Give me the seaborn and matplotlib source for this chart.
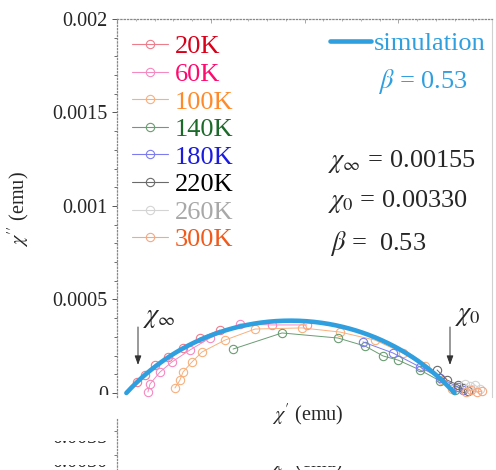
import numpy as np
import matplotlib
matplotlib.use("Agg")
import matplotlib.pyplot as plt
import seaborn as sns
from matplotlib.lines import Line2D
from matplotlib.ticker import MultipleLocator, FuncFormatter
from matplotlib.transforms import Bbox

sns.set_style("white")
plt.rcParams["font.family"] = ["Liberation Serif", "DejaVu Serif"]
plt.rcParams["mathtext.fontset"] = "stix"

W, H, DPI = 496, 470, 100

# ac susceptibility, chi' and chi'' (emu), one Cole-Cole set per temperature
temps = ["20K", "60K", "100K", "140K", "180K", "220K", "260K", "300K"]
label_colors = ["#d9001a", "#ff0a6e", "#ff8a2a", "#1c6a2a",
                "#1a1ae0", "#000000", "#a8a8a8", "#f05a1a"]
line_colors = ["#ee7d8c", "#f58ac0", "#f8b07c", "#6b9c73",
               "#7c7cf0", "#6a6a6a", "#d4d4d4", "#f5a882"]

chi1_20K = [0.001607, 0.001649, 0.001703, 0.001772, 0.001852, 0.001943, 0.002049]
chi2_20K = [0.0000588, 0.0000963, 0.000150, 0.000193, 0.000241, 0.000294, 0.000337]

chi1_60K = [0.001665, 0.001676, 0.001729, 0.001793, 0.001889, 0.001996, 0.002156, 0.002327, 0.002513]
chi2_60K = [0.0000053, 0.0000481, 0.000112, 0.000166, 0.000230, 0.000294, 0.000369, 0.000364, 0.000364]

chi1_100K = [0.001809, 0.001836, 0.001852, 0.001900, 0.001953, 0.002076, 0.002236,
             0.002487, 0.002689, 0.002876, 0.003025, 0.003143, 0.003233, 0.003287]
chi2_100K = [0.0000267, 0.0000695, 0.000112, 0.000166, 0.000219, 0.000283, 0.000342,
             0.000348, 0.000326, 0.000283, 0.000214, 0.000144, 0.0000695, 0.0000214]

chi1_140K = [0.002119, 0.002380, 0.002679, 0.002823, 0.002919, 0.002999, 0.003116, 0.003223, 0.003303]
chi2_140K = [0.000235, 0.000321, 0.000294, 0.000251, 0.000198, 0.000176, 0.000123, 0.0000642, 0.000016]

chi1_180K = [0.002812, 0.002972, 0.003116, 0.003223, 0.003319, 0.003345]
chi2_180K = [0.000273, 0.000214, 0.000139, 0.0000802, 0.0000321, 0.000016]

chi1_220K = [0.003207, 0.003260, 0.003319, 0.003345, 0.003372]
chi2_220K = [0.000123, 0.0000695, 0.0000428, 0.0000267, 0.0000107]

chi1_260K = [0.003356, 0.003383, 0.003409, 0.003436]
chi2_260K = [0.0000481, 0.0000374, 0.0000428, 0.0000214]

chi1_300K = [0.003361, 0.003388, 0.003420, 0.003447]
chi2_300K = [0.0000053, 0.000016, 0.0000053, 0.0000107]

chi1_sets = [chi1_20K, chi1_60K, chi1_100K, chi1_140K, chi1_180K, chi1_220K, chi1_260K, chi1_300K]
chi2_sets = [chi2_20K, chi2_60K, chi2_100K, chi2_140K, chi2_180K, chi2_220K, chi2_260K, chi2_300K]

# generalized Debye (Cole-Cole) fit parameters
chi_inf = 0.00155
chi_0 = 0.00330
beta = 0.53
sim_color = "#2f9fe0"

wt = np.logspace(-12, 12, 1500)
chi_sim = chi_inf + (chi_0 - chi_inf) / (1 + (1j * wt) ** beta)
sim_real = chi_sim.real
sim_imag = -chi_sim.imag


def fx(px):
    return px / W


def fy(py):
    return 1 - py / H


fig = plt.figure(figsize=(W / DPI, H / DPI), dpi=DPI)
fig.patch.set_facecolor("white")

ax = fig.add_axes([fx(117), fy(397), fx(492) - fx(117), fy(19) - fy(397)])
ax.set_facecolor("none")

for c1, c2, lc in zip(chi1_sets, chi2_sets, line_colors):
    sns.lineplot(x=c1, y=c2, ax=ax, sort=False, estimator=None, color=lc,
                 lw=0.7, marker="o", markersize=6, markerfacecolor="none",
                 markeredgecolor=lc, markeredgewidth=0.8, legend=False, zorder=3)

sns.lineplot(x=sim_real, y=sim_imag, ax=ax, sort=False, estimator=None,
             color=sim_color, lw=3.3, legend=False, zorder=5)

ax.set_xlim(0.0015, 0.0035)
ax.set_ylim(-0.0000214, 0.002)

ax.yaxis.set_major_locator(MultipleLocator(0.0005))
ax.yaxis.set_minor_locator(MultipleLocator(0.0001))
ax.xaxis.set_major_locator(MultipleLocator(0.0005))
ax.xaxis.set_minor_locator(MultipleLocator(0.0001))
ax.yaxis.set_major_formatter(FuncFormatter(lambda v, p: "%g" % round(v, 6)))

ax.tick_params(axis="y", which="both", left=True, right=False, direction="out",
               color="#555555", labelsize=14.5, pad=3)
ax.tick_params(axis="y", which="major", length=3.6, width=0.7)
ax.tick_params(axis="y", which="minor", length=2.2, width=0.6)
ax.tick_params(axis="x", which="both", top=True, bottom=False, labeltop=False,
               labelbottom=False, direction="in", color="#999999")
ax.tick_params(axis="x", which="major", length=3, width=0.6)
ax.tick_params(axis="x", which="minor", length=1.5, width=0.5)

for side in ("left", "top"):
    ax.spines[side].set_visible(True)
    ax.spines[side].set_linestyle(":")
    ax.spines[side].set_color("#888888")
    ax.spines[side].set_linewidth(0.9)
ax.spines["right"].set_visible(True)
ax.spines["right"].set_color("#d0d0d0")
ax.spines["right"].set_linewidth(0.8)
ax.spines["bottom"].set_visible(False)

ax.set_xlabel(r"$\chi'$ (emu)", fontsize=14.5)
ax.xaxis.set_label_coords(0.509, -0.012)
ax.xaxis.label.set_va("top")
ax.set_ylabel(r"$\chi''$ (emu)", fontsize=14.5)
ax.yaxis.set_label_coords(-0.261, 0.497)
ax.yaxis.label.set_va("center")
ax.yaxis.label.set_ha("center")

# the bottom of the panel is cut just under the zero line
fig.canvas.draw()
for tick in ax.yaxis.get_major_ticks():
    tick.label1.set_clip_box(Bbox.from_extents(0, H - 395, W, H))
    tick.label1.set_clip_on(True)

# arrows marking chi_inf and chi_0 on the real axis
for xa in (0.001612, 0.003276):
    ax.annotate("", xy=(xa, 0.000150), xytext=(xa, 0.000353),
                arrowprops=dict(arrowstyle="-|>,head_length=0.55,head_width=0.2",
                                color="#333333", lw=0.7, shrinkA=0, shrinkB=0),
                zorder=6)
fig.text(fx(143), fy(322), r"$\chi_{\infty}$", fontsize=19, va="baseline")
fig.text(fx(455), fy(320), r"$\chi_{0}$", fontsize=19, va="baseline")

# temperature legend
handles = [Line2D([], [], color=lc, lw=0.8, marker="o", markersize=6,
                  markerfacecolor="none", markeredgecolor=lc, markeredgewidth=0.8)
           for lc in line_colors]
leg = ax.legend(handles, temps, labelcolor=label_colors, loc="upper left",
                bbox_to_anchor=(fx(132), fy(35)), bbox_transform=fig.transFigure,
                frameon=False, fontsize=19, handlelength=1.36, handletextpad=0.27,
                labelspacing=0.155, borderpad=0, borderaxespad=0)
ax.add_artist(leg)

# simulation legend and fit values
ax.legend([Line2D([], [], color=sim_color, lw=3.3)], ["simulation"],
          labelcolor=sim_color, loc="upper left", bbox_to_anchor=(fx(330), fy(32)),
          bbox_transform=fig.transFigure, frameon=False, fontsize=19,
          handlelength=1.55, handletextpad=0.12, borderpad=0, borderaxespad=0)
fig.text(fx(423), fy(88), r"$\beta$ = %.2f" % beta, color=sim_color, fontsize=19,
         ha="center", va="baseline")
fig.text(fx(328), fy(167), r"$\chi_{\infty}$ = %.5f" % chi_inf, fontsize=19, va="baseline")
fig.text(fx(328), fy(207), r"$\chi_{0}$ = %.5f" % chi_0, fontsize=19, va="baseline")
fig.text(fx(330), fy(250), r"$\beta$ =  %.2f" % beta, fontsize=19, va="baseline")

# top edge of the next panel
ax2 = fig.add_axes([fx(117), 0, 0.3, fy(418)])
ax2.set_facecolor("none")
ax2.set_xlim(0, 1)
ax2.set_ylim(0, H - 418)
ax2.set_yticks([H - 455, H - 431])
ax2.set_xticks([])
ax2.tick_params(axis="y", left=True, direction="out", length=2.4, width=0.6,
                color="#666666", labelleft=False)
for side in ("right", "top", "bottom"):
    ax2.spines[side].set_visible(False)
ax2.spines["left"].set_visible(True)
ax2.spines["left"].set_linestyle(":")
ax2.spines["left"].set_color("#888888")
ax2.spines["left"].set_linewidth(0.9)

for lab, base in (("0.0035", 443), ("0.0030", 467)):
    t = fig.text(fx(107), fy(base), lab, fontsize=14.5, ha="right", va="baseline")
    t.set_clip_box(Bbox.from_extents(0, H - base - 1, W, H - base + 2))
    t.set_clip_on(True)

t = fig.text(fx(308), fy(467.5), r"$\chi'$ (emu)", fontsize=14.5, ha="center", va="baseline")
t.set_clip_box(Bbox.from_extents(0, 0, W, 4))
t.set_clip_on(True)

fig.savefig("out.png", dpi=DPI, facecolor="white")
